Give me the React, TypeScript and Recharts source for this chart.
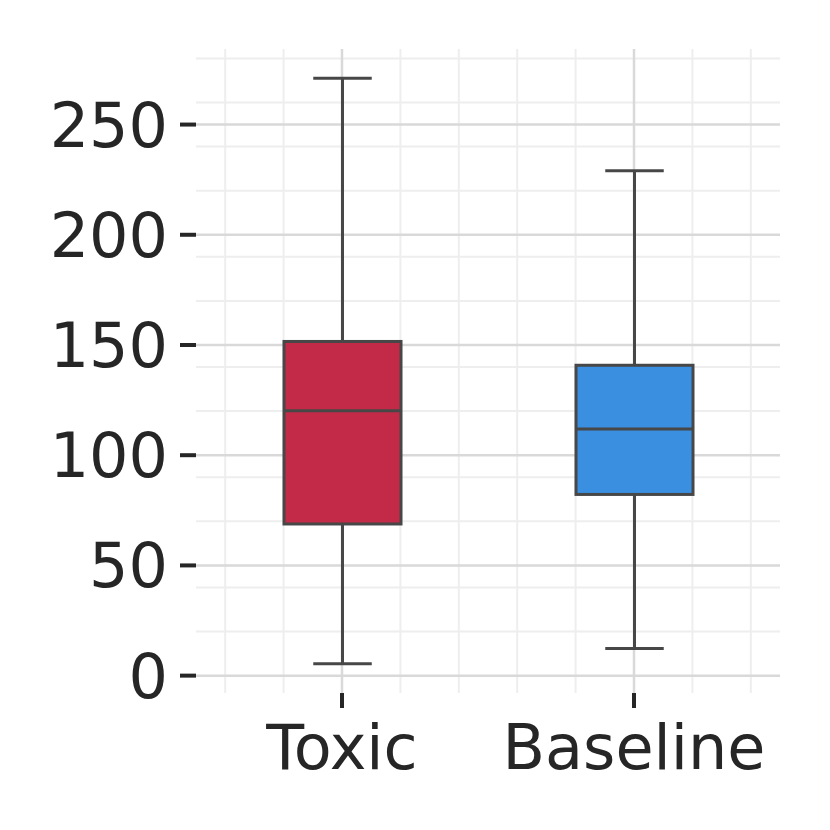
import React from 'react';
import { ComposedChart, Bar, XAxis, YAxis, CartesianGrid } from 'recharts';

// box plot values
const categories = ['Toxic', 'Baseline'];
const whiskerLow = [5.4, 12.3];
const quartile1 = [68.8, 82.2];
const medians = [120.2, 111.9];
const quartile3 = [151.6, 140.8];
const whiskerHigh = [271.0, 229.1];
const boxColors = ['#C32A48', '#3A8FE0'];

const yTicks = [0, 50, 100, 150, 200, 250];
const yMinorTicks = [10, 20, 30, 40, 60, 70, 80, 90, 110, 120, 130, 140, 160, 170, 180, 190, 210, 220, 230, 240, 260, 270, 280];
// minor vertical grid positions in category units (categories sit at 0 and 1)
const xMinorTicks = [-0.4, -0.2, 0.2, 0.4, 0.6, 0.8, 1.2, 1.4];
const xUnitDomain = [-0.5, 1.5];

const data = categories.map((name, i) => ({
  name,
  low: whiskerLow[i],
  q1: quartile1[i],
  median: medians[i],
  q3: quartile3[i],
  high: whiskerHigh[i],
}));

// seaborn-like 5% margin around the data range
const dataMin = Math.min(...whiskerLow);
const dataMax = Math.max(...whiskerHigh);
const pad = (dataMax - dataMin) * 0.05;
const yDomain = [dataMin - pad, dataMax + pad];

const LINE = '#474747';
const TEXT = '#262626';

// eslint-disable-next-line @typescript-eslint/no-explicit-any
const minorVerticals = ({ offset }: any) =>
  xMinorTicks.map(
    (t) => offset.left + ((t - xUnitDomain[0]) / (xUnitDomain[1] - xUnitDomain[0])) * offset.width
  );

// eslint-disable-next-line @typescript-eslint/no-explicit-any
const BoxShape = (props: any) => {
  const { x, y, width, height, payload, index } = props;
  const top = Math.min(y, y + height);
  const bottom = Math.max(y, y + height);
  const toPx = (v: number) => bottom - ((v - payload.low) / (payload.high - payload.low)) * (bottom - top);
  const cx = x + width / 2;
  const capHalf = width / 4;
  const yq1 = toPx(payload.q1);
  const yq3 = toPx(payload.q3);
  const ymed = toPx(payload.median);
  return (
    <g>
      <line x1={cx} x2={cx} y1={top} y2={yq3} stroke={LINE} strokeWidth={3} />
      <line x1={cx} x2={cx} y1={yq1} y2={bottom} stroke={LINE} strokeWidth={3} />
      <line x1={cx - capHalf} x2={cx + capHalf} y1={top} y2={top} stroke={LINE} strokeWidth={3} />
      <line x1={cx - capHalf} x2={cx + capHalf} y1={bottom} y2={bottom} stroke={LINE} strokeWidth={3} />
      <rect x={x} y={yq3} width={width} height={yq1 - yq3} fill={boxColors[index % boxColors.length]} stroke={LINE} strokeWidth={3} />
      <line x1={x} x2={x + width} y1={ymed} y2={ymed} stroke={LINE} strokeWidth={3} />
    </g>
  );
};

const App: React.FC = () => {
  return (
    <div style={{ position: 'absolute', left: 0, top: 0, width: 830, height: 830, background: '#fff' }}>
      <ComposedChart
        width={830}
        height={830}
        data={data}
        margin={{ top: 49, right: 50, left: 0, bottom: 0 }}
        style={{ fontFamily: '"DejaVu Sans", sans-serif' }}
      >
        <YAxis yAxisId="minor" type="number" domain={yDomain} ticks={yMinorTicks} allowDataOverflow hide />
        <CartesianGrid
          yAxisId="minor"
          stroke="#eeeeee"
          strokeWidth={2}
          syncWithTicks
          verticalCoordinatesGenerator={minorVerticals}
        />
        <CartesianGrid stroke="#d9d9d9" strokeWidth={2.5} syncWithTicks />
        <XAxis
          dataKey="name"
          height={137}
          axisLine={false}
          tickSize={15}
          tickMargin={17}
          tickLine={{ stroke: TEXT, strokeWidth: 4 }}
          tick={{ fill: TEXT, fontSize: 62 }}
          interval={0}
        />
        <YAxis
          type="number"
          domain={yDomain}
          ticks={yTicks}
          allowDataOverflow
          width={196}
          axisLine={false}
          tickSize={16}
          tickMargin={12}
          tickLine={{ stroke: TEXT, strokeWidth: 4 }}
          tick={{ fill: TEXT, fontSize: 62 }}
          interval={0}
        />
        <Bar
          dataKey={(d: { low: number; high: number }) => [d.low, d.high]}
          barSize={117}
          shape={<BoxShape />}
          isAnimationActive={false}
        />
      </ComposedChart>
    </div>
  );
};

export default App;
